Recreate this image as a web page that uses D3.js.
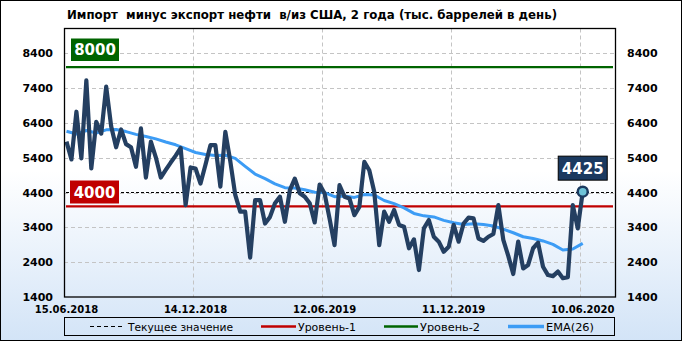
<!DOCTYPE html>
<html>
<head>
<meta charset="utf-8">
<script src="https://cdn.jsdelivr.net/npm/d3@7"></script>
<style>
  body { margin: 0; background: #fff; }
  text { font-family: "DejaVu Sans", sans-serif; }
</style>
</head>
<body>
<div class="chart"></div>
<script>
// weekly values, 15.06.2018 .. 12.06.2020 (тыс. баррелей в день)
const netImports = [
  5860, 5350, 6720, 5380, 7620, 5090, 6430, 6090, 7440, 6300,
  5700, 6210, 5790, 5700, 5140, 6240, 4830, 5860, 5410, 4830,
  5050, 5260, 5460, 5680, 4040, 5120, 5090, 4660, 5200, 5760,
  5760, 4570, 6140, 5300, 4330, 3850, 3850, 2530, 4180, 4180,
  3510, 3700, 4090, 4280, 3560, 4470, 4800, 4380, 4280, 4090,
  3540, 4630, 4370, 3650, 2890, 4610, 4280, 4230, 3750, 3990,
  5280, 5040, 4420, 2890, 3850, 3560, 3900, 3470, 3420, 2800,
  3055, 2175, 3370, 3610, 3130, 2990, 2700, 2840, 3470, 2990,
  3510, 3680, 3660, 3080, 3010, 3130, 3210, 4040, 3040, 2580,
  2060, 2990, 2220, 2320, 2800, 2960, 2270, 2030, 2000, 2130,
  1940, 1970, 4040, 3370, 4425
];

// EMA(26), read every second week
const emaWeeks = d3.range(0, 105, 2);
const emaValues = [
  6160, 6080, 6180, 6110, 6200, 6210, 6150, 6070, 6010, 5940,
  5850, 5770, 5660, 5550, 5490, 5460, 5470, 5380, 5150, 4930,
  4800, 4650, 4540, 4530, 4480, 4410, 4400, 4280, 4300, 4260,
  4340, 4330, 4170, 4080, 3960, 3800, 3730, 3700, 3600, 3530,
  3480, 3500, 3480, 3440, 3350, 3245, 3130, 3080, 3010, 2910,
  2750, 2780, 2940
];

const xTickWeeks = [0, 26, 52, 78, 104];
const xTickLabels = ["15.06.2018", "14.12.2018", "12.06.2019", "11.12.2019", "10.06.2020"];
const yTicks = [1400, 2400, 3400, 4400, 5400, 6400, 7400, 8400];
const level1 = 4000;
const level2 = 8000;
const currentValue = 4425;

const width = 682;
const height = 341;
const plot = { left: 64, right: 615, top: 28.5, bottom: 297 };

const navy = "#243f61";
const emaColor = "#3c9cf5";
const red = "#c00000";
const green = "#006400";

const svg = d3
  .select(".chart")
  .append("svg")
  .attr("width", width)
  .attr("height", height);

// background gradient
const grad = svg
  .append("defs")
  .append("linearGradient")
  .attr("id", "bg")
  .attr("x1", 0).attr("y1", 0).attr("x2", 0).attr("y2", 1);
grad.append("stop").attr("offset", "0.5").attr("stop-color", "#ffffff");
grad.append("stop").attr("offset", "1").attr("stop-color", "#d3e4f7");

svg
  .append("rect")
  .attr("x", 0.5).attr("y", 0.5)
  .attr("width", width - 1).attr("height", height - 1)
  .attr("fill", "url(#bg)")
  .attr("stroke", "#000");

const xScale = d3
  .scaleLinear()
  .domain([-0.5, 110.5])
  .range([plot.left, plot.right]);

const yScale = d3
  .scaleLinear()
  .domain([1400, 9110])
  .range([plot.bottom, plot.top]);

// title
svg
  .append("text")
  .attr("x", 67)
  .attr("y", 18.5)
  .attr("font-size", 12)
  .attr("font-weight", "bold")
  .attr("textLength", 490)
  .attr("lengthAdjust", "spacingAndGlyphs")
  .style("white-space", "pre")
  .text("Импорт  минус экспорт нефти  в/из США, 2 года (тыс. баррелей в день)");

// grid
svg
  .append("g")
  .selectAll("line")
  .data(yTicks.slice(1))
  .enter()
  .append("line")
  .attr("x1", plot.left)
  .attr("x2", plot.right)
  .attr("y1", (d) => Math.round(yScale(d)) + 0.5)
  .attr("y2", (d) => Math.round(yScale(d)) + 0.5)
  .attr("stroke", "#c4c4c4")
  .attr("stroke-dasharray", "4,3");

svg
  .append("g")
  .selectAll("line")
  .data(xTickWeeks.slice(1))
  .enter()
  .append("line")
  .attr("x1", (d) => Math.round(xScale(d - 0.5)) + 0.5)
  .attr("x2", (d) => Math.round(xScale(d - 0.5)) + 0.5)
  .attr("y1", plot.top)
  .attr("y2", plot.bottom)
  .attr("stroke", "#c4c4c4")
  .attr("stroke-dasharray", "4,3");

// axes labels
const yLeft = d3.axisLeft(yScale).tickValues(yTicks).tickFormat(d3.format("d")).tickSize(0).tickPadding(11);
const yRight = d3.axisRight(yScale).tickValues(yTicks).tickFormat(d3.format("d")).tickSize(0).tickPadding(12);

[["left", yLeft, plot.left], ["right", yRight, plot.right]].forEach(([k, ax, x]) => {
  const g = svg
    .append("g")
    .attr("class", "y-" + k)
    .attr("transform", `translate(${x},0)`)
    .call(ax);
  g.select(".domain").remove();
  g.selectAll("text")
    .attr("font-family", "DejaVu Sans")
    .attr("font-size", 11)
    .attr("font-weight", "bold")
    .attr("fill", "#000");
});

svg
  .append("g")
  .selectAll("text")
  .data(xTickWeeks)
  .enter()
  .append("text")
  .attr("x", (d) => xScale(d))
  .attr("y", 312.5)
  .attr("text-anchor", "middle")
  .attr("font-size", 10)
  .attr("font-weight", "bold")
  .text((d, i) => xTickLabels[i]);

// level lines
svg
  .append("line")
  .attr("x1", plot.left + 2).attr("x2", plot.right - 2)
  .attr("y1", yScale(level2)).attr("y2", yScale(level2))
  .attr("stroke", green).attr("stroke-width", 2.2);

svg
  .append("line")
  .attr("x1", plot.left + 2).attr("x2", plot.right - 2)
  .attr("y1", yScale(level1)).attr("y2", yScale(level1))
  .attr("stroke", red).attr("stroke-width", 2.2);

svg
  .append("line")
  .attr("x1", plot.left + 2).attr("x2", plot.right - 2)
  .attr("y1", Math.round(yScale(currentValue)) + 0.5)
  .attr("y2", Math.round(yScale(currentValue)) + 0.5)
  .attr("stroke", "#000").attr("stroke-dasharray", "3,2");

// EMA
const emaLine = d3
  .line()
  .x((d, i) => xScale(emaWeeks[i]))
  .y((d) => yScale(d));

svg
  .append("path")
  .datum(emaValues)
  .attr("d", emaLine)
  .attr("fill", "none")
  .attr("stroke", emaColor)
  .attr("stroke-width", 3)
  .attr("stroke-linejoin", "round");

// main series
const line = d3
  .line()
  .x((d, i) => xScale(i))
  .y((d) => yScale(d));

svg
  .append("path")
  .datum(netImports)
  .attr("d", line)
  .attr("fill", "none")
  .attr("stroke", navy)
  .attr("stroke-width", 4.2)
  .attr("stroke-linejoin", "round");

// plot frame
svg
  .append("rect")
  .attr("x", plot.left + 0.5)
  .attr("y", plot.top)
  .attr("width", plot.right - plot.left)
  .attr("height", plot.bottom - plot.top)
  .attr("fill", "none")
  .attr("stroke", "#000")
  .attr("stroke-width", 1.3);

// level badges
function badge(x, yTop, w, h, fill, label, stroke) {
  svg
    .append("rect")
    .attr("x", x).attr("y", yTop)
    .attr("width", w).attr("height", h)
    .attr("fill", fill)
    .attr("stroke", stroke || "none");
  svg
    .append("text")
    .attr("x", x + w / 2)
    .attr("y", yTop + h / 2 + 5.5)
    .attr("text-anchor", "middle")
    .attr("font-size", 15)
    .attr("font-weight", "bold")
    .attr("fill", "#fff")
    .text(label);
}

badge(71, 38.5, 48, 22.5, green, level2);
badge(70, 180.5, 49, 23, red, level1);

const lastIndex = netImports.length - 1;
const lx = xScale(lastIndex);
const ly = yScale(netImports[lastIndex]);
badge(lx - 24.5, ly - 35.5, 49, 24, "#1b3a60", currentValue, "#000");

svg
  .append("circle")
  .attr("cx", lx)
  .attr("cy", ly)
  .attr("r", 5)
  .attr("fill", "#6ec3d8")
  .attr("stroke", "#1b3a60")
  .attr("stroke-width", 2.5);

// legend
const legend = svg.append("g");
legend
  .append("rect")
  .attr("x", 64.5).attr("y", 317.5)
  .attr("width", 550).attr("height", 18)
  .attr("fill", "none")
  .attr("stroke", "#000");

const legendItems = [
  { label: "Текущее значение", x1: 90, x2: 122, tx: 128, tw: 105, color: "#000", w: 1, dash: "4,3" },
  { label: "Уровень-1", x1: 261, x2: 296, tx: 298, tw: 58, color: red, w: 2.5 },
  { label: "Уровень-2", x1: 384, x2: 418, tx: 420, tw: 60, color: green, w: 2.5 },
  { label: "EMA(26)", x1: 508, x2: 544, tx: 546, tw: 48, color: emaColor, w: 3.5 },
];

legendItems.forEach((d) => {
  legend
    .append("line")
    .attr("x1", d.x1).attr("x2", d.x2)
    .attr("y1", 326.5).attr("y2", 326.5)
    .attr("stroke", d.color)
    .attr("stroke-width", d.w)
    .attr("stroke-dasharray", d.dash || null);
  legend
    .append("text")
    .attr("x", d.tx)
    .attr("y", 330.5)
    .attr("font-size", 11)
    .attr("textLength", d.tw)
    .attr("lengthAdjust", "spacingAndGlyphs")
    .text(d.label);
});
</script>
</body>
</html>
